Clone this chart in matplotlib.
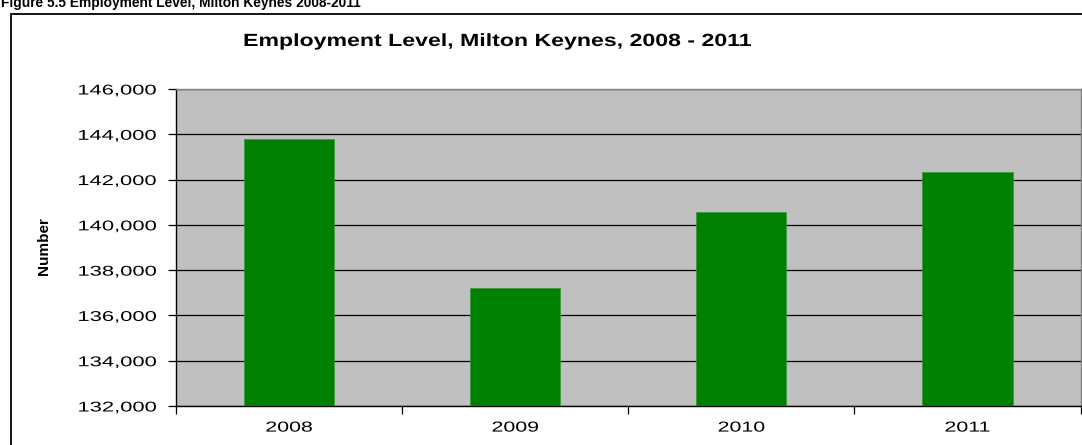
import matplotlib
matplotlib.use("Agg")
import matplotlib.pyplot as plt
from matplotlib.patches import Rectangle
from matplotlib.patheffects import AbstractPathEffect
from matplotlib.transforms import Affine2D
from matplotlib.ticker import FixedLocator, NullFormatter, FuncFormatter

# Data
years = ["2008", "2009", "2010", "2011"]
employment = [143780, 137190, 140570, 142350]
y_ticks = [132000, 134000, 136000, 138000, 140000, 142000, 144000, 146000]

title = "Employment Level, Milton Keynes, 2008 - 2011"
caption = "Figure 5.5 Employment Level, Milton Keynes 2008-2011"
y_label = "Number"

BAR_GREEN = "#008000"
PLOT_GREY = "#C0C0C0"
FONT = "Liberation Sans"


class Stretch(AbstractPathEffect):
    """Scale a text's glyphs about its anchor point (wide, spreadsheet-style type)."""

    def __init__(self, text, sx=1.0, sy=1.0):
        super().__init__()
        self.text = text
        self.sx = sx
        self.sy = sy

    def draw_path(self, renderer, gc, tpath, affine, rgbFace=None):
        ax_, ay_ = self.text.get_transform().transform(self.text.get_unitless_position())
        st = Affine2D().translate(-ax_, -ay_).scale(self.sx, self.sy).translate(ax_, ay_)
        renderer.draw_path(gc, tpath, affine + st, rgbFace)


W, H = 1082, 445
fig = plt.figure(figsize=(W / 100, H / 100), dpi=100)
fig.patch.set_facecolor("white")

left, right, top, bottom = 175.7, 1080.5, 89, 406
ax = fig.add_axes([left / W, 1 - bottom / H, (right - left) / W, (bottom - top) / H])
ax.set_facecolor(PLOT_GREY)

x = list(range(len(years)))
ax.bar(x, employment, width=0.4, color=BAR_GREEN, edgecolor="#3a963a",
       linewidth=0.5, zorder=3)

ax.set_xlim(-0.5, len(years) - 0.5)
ax.set_ylim(y_ticks[0], y_ticks[-1])

# y axis
ax.set_yticks(y_ticks)
ax.yaxis.set_major_formatter(FuncFormatter(lambda v, p: f"{int(v):,}"))
ax.yaxis.grid(True, color="black", linewidth=0.9, zorder=1)
ax.set_axisbelow(True)
ax.tick_params(axis="y", direction="out", length=5.5, width=0.9, pad=8.6,
               labelsize=10.2, colors="black")

# x axis: boundary ticks, centred category labels
ax.xaxis.set_major_locator(FixedLocator([i - 0.5 for i in range(len(years) + 1)]))
ax.xaxis.set_major_formatter(NullFormatter())
ax.xaxis.set_minor_locator(FixedLocator(x))
ax.set_xticks(x, years, minor=True)
ax.tick_params(axis="x", which="major", direction="out", length=5.5, width=0.9)
ax.tick_params(axis="x", which="minor", length=0, pad=10.5, labelsize=10.4)

for side in ("left", "bottom"):
    ax.spines[side].set_color("black")
    ax.spines[side].set_linewidth(1.0)
for side in ("top", "right"):
    ax.spines[side].set_color("#808080")
    ax.spines[side].set_linewidth(1.0)

for lab in ax.get_yticklabels():
    lab.set_fontfamily(FONT)
for tick in ax.yaxis.get_major_ticks():
    tick.label1.set_fontfamily(FONT)
    tick.label1.set_path_effects([Stretch(tick.label1, sx=1.55)])
for tick in ax.xaxis.get_minor_ticks():
    tick.label1.set_fontfamily(FONT)
    tick.label1.set_path_effects([Stretch(tick.label1, sx=1.48)])

# y label
fig.text(44 / W, 1 - 246 / H, y_label, rotation=90, ha="center", va="center",
         fontsize=11, fontweight="bold", family=FONT)

# chart title
t = fig.text(498 / W, 1 - 46 / H, title, ha="center", va="baseline",
             fontsize=12.7, fontweight="bold", family=FONT)
t.set_path_effects([Stretch(t, sx=1.31)])

# report caption above the chart frame
fig.text(1 / W, 1 - 6.5 / H, caption, ha="left", va="baseline",
         fontsize=9.9, fontweight="bold", family=FONT)

# chart frame
fig.patches.append(Rectangle((11 / W, -0.2), 1.3, (1 - 14 / H) + 0.2,
                             transform=fig.transFigure, fill=False,
                             edgecolor="black", linewidth=1.3, zorder=0))

fig.savefig("out.png", dpi=100, facecolor="white")
